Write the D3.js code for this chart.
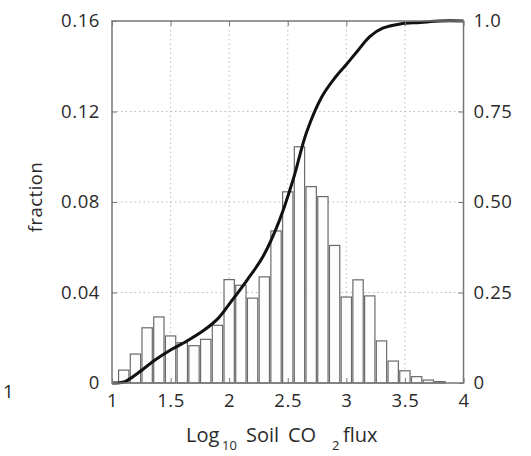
<!DOCTYPE html>
<html><head><meta charset="utf-8">
<script src="https://cdn.jsdelivr.net/npm/d3@7"></script>
<style>body{margin:0;background:#fff}svg{display:block}text{font-family:"Open Sans",sans-serif;fill:#2a2a2a}</style>
</head><body>
<script>
// ---- data ----
const binCenters = [1.1,1.2,1.3,1.4,1.5,1.6,1.7,1.8,1.9,2.0,2.1,2.2,2.3,2.4,2.5,2.6,2.7,2.8,2.9,3.0,3.1,3.2,3.3,3.4,3.5,3.6,3.7,3.8];
const fractions  = [0.0057,0.0128,0.0244,0.0292,0.0208,0.0178,0.0165,0.0193,0.0255,0.0457,0.0432,0.0375,0.0469,0.0672,0.0845,0.1044,0.0868,0.0824,0.0608,0.038,0.0456,0.0385,0.0186,0.0097,0.0054,0.0028,0.0013,0.0006];
const cdfX = [1.0,1.11,1.22,1.37,1.51,1.65,1.79,1.91,2.01,2.15,2.29,2.43,2.545,2.66,2.79,2.9,3.0,3.09,3.2,3.31,3.46,3.63,3.8,4.0];
const cdfY = [0,0.004,0.027,0.064,0.093,0.118,0.147,0.180,0.222,0.283,0.350,0.45,0.561,0.692,0.79,0.842,0.880,0.915,0.957,0.98,0.992,0.996,1.0,1.0];
const xTicks = [1,1.5,2,2.5,3,3.5,4];
const xTickLabels = ["1","1.5","2","2.5","3","3.5","4"];
const yLeftTicks = [0,0.04,0.08,0.12,0.16];
const yLeftLabels = ["0","0.04","0.08","0.12","0.16"];
const yRightTicks = [0,0.25,0.5,0.75,1.0];
const yRightLabels = ["0","0.25","0.50","0.75","1.0"];
const binWidth = 0.1;

const W=531,H=456;
const L=112,R=463.5,T=21,B=383;
const svg=d3.select("body").append("svg").attr("width",W).attr("height",H);
const x=d3.scaleLinear().domain([1,4]).range([L,R]);
const yL=d3.scaleLinear().domain([0,0.16]).range([B,T]);
const yR=d3.scaleLinear().domain([0,1]).range([B,T]);

// grid
const g=svg.append("g");
g.selectAll("line.gx").data(xTicks.slice(1,-1)).enter().append("line")
 .attr("x1",d=>x(d)).attr("x2",d=>x(d)).attr("y1",T).attr("y2",B)
 .attr("stroke","#bbb").attr("stroke-width",1).attr("stroke-dasharray","1.5,3");
g.selectAll("line.gy").data(yLeftTicks.slice(1,-1)).enter().append("line")
 .attr("x1",L).attr("x2",R).attr("y1",d=>yL(d)).attr("y2",d=>yL(d))
 .attr("stroke","#bbb").attr("stroke-width",1).attr("stroke-dasharray","1.5,3");

// bars
svg.append("g").selectAll("rect").data(binCenters).enter().append("rect")
 .attr("x",(d)=>x(d-binWidth/2)+0.7)
 .attr("width",(d)=>x(d+binWidth/2)-x(d-binWidth/2)-1.4)
 .attr("y",(d,i)=>yL(fractions[i]))
 .attr("height",(d,i)=>B-yL(fractions[i]))
 .attr("fill","#fdfdfd").attr("stroke","#6a6a6a").attr("stroke-width",1.2);

// cdf line
const pts=cdfX.map((v,i)=>[v,cdfY[i]]);
svg.append("path").datum(pts)
 .attr("d",d3.line().x(d=>x(d[0])).y(d=>yR(d[1])).curve(d3.curveCatmullRom.alpha(0.5)))
 .attr("fill","none").attr("stroke","#111").attr("stroke-width",3);

// box
svg.append("rect").attr("x",L).attr("y",T).attr("width",R-L).attr("height",B-T)
 .attr("fill","none").attr("stroke","#777").attr("stroke-width",1.5);

// axes
const fs=18.5;
const ax=d3.axisBottom(x).tickValues(xTicks).tickFormat((d,i)=>xTickLabels[i]).tickSize(-5).tickPadding(11);
const gx=svg.append("g").attr("transform",`translate(0,${B})`).call(ax);
const axT=d3.axisTop(x).tickValues(xTicks).tickFormat("").tickSize(-5);
const gxt=svg.append("g").attr("transform",`translate(0,${T})`).call(axT);
const ayl=d3.axisLeft(yL).tickValues(yLeftTicks).tickFormat((d,i)=>yLeftLabels[i]).tickSize(-5).tickPadding(12);
const gyl=svg.append("g").attr("transform",`translate(${L},0)`).call(ayl);
const ayr=d3.axisRight(yR).tickValues(yRightTicks).tickFormat((d,i)=>yRightLabels[i]).tickSize(-5).tickPadding(10);
const gyr=svg.append("g").attr("transform",`translate(${R},0)`).call(ayr);
[gx,gxt,gyl,gyr].forEach(a=>{
  a.select(".domain").remove();
  a.selectAll(".tick line").attr("stroke","#777");
  a.selectAll(".tick text").attr("font-size",fs).attr("font-family","Open Sans").attr("fill","#2a2a2a").attr("letter-spacing","0.6px");
});

// labels
svg.append("text").attr("transform","translate(42,197) rotate(-90)").attr("text-anchor","middle")
 .attr("font-size",fs).attr("letter-spacing","0.5px").text("fraction");
const ty=442, tfs=20;
const parts=[["Log",186,0,tfs],["10",222,8,13],["Soil",246,0,tfs],["CO",288,0,tfs],["2",332,8,13],["flux",343,0,tfs]];
svg.append("g").selectAll("text").data(parts).enter().append("text")
 .attr("x",d=>d[1]).attr("y",d=>ty+d[2]).attr("font-size",d=>d[3]).text(d=>d[0]);
svg.append("text").attr("x",3).attr("y",398).attr("font-size",fs).text("1");
</script>
</body></html>
